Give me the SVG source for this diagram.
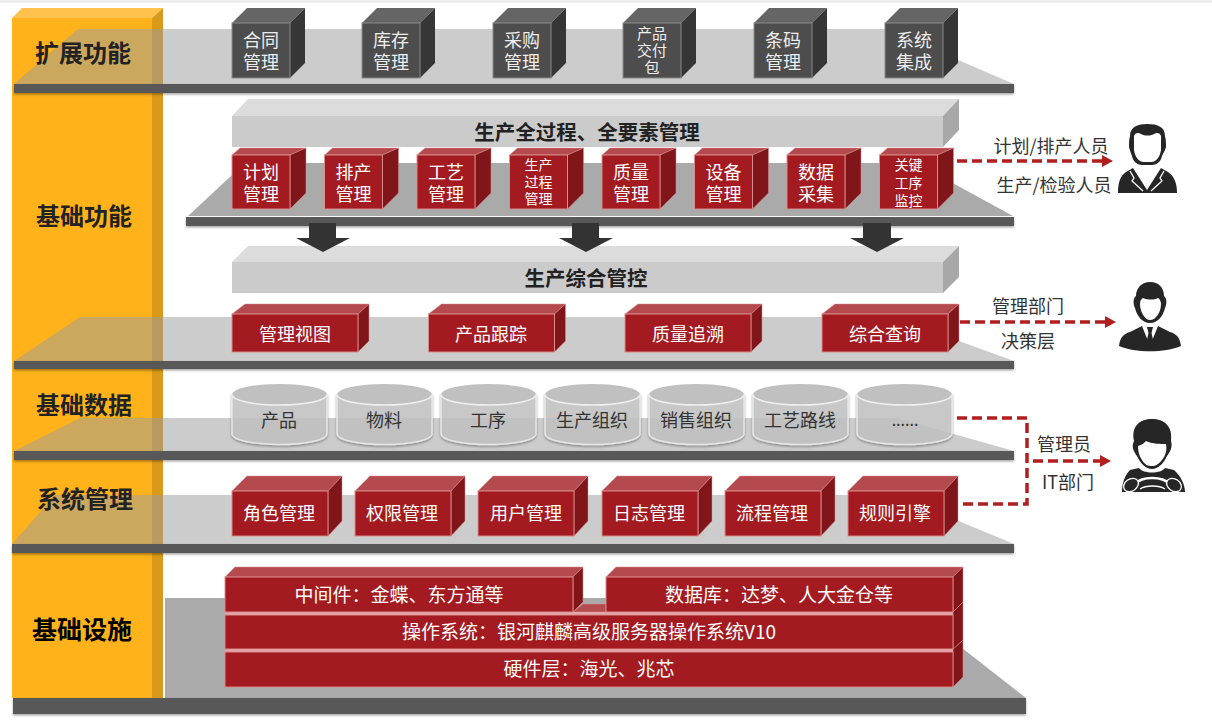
<svg xmlns="http://www.w3.org/2000/svg" width="1212" height="722" viewBox="0 0 1212 722">
<style>
text{font-family:"Noto Sans CJK SC","Microsoft YaHei","Liberation Sans",sans-serif;dominant-baseline:central;text-anchor:middle;transform:translateY(-1.5px)}
.w{fill:#fff;font-size:18px}
.g{fill:#eee;font-size:18px}
.d{fill:#333;font-size:18px}
.s14{font-size:14px}.s15{font-size:15px}.s19{font-size:19px}
.lab{fill:#222;font-size:24px;font-weight:700}
.bt{fill:#222;font-size:20.500px;font-weight:700}
.band{fill:#9d9d9d;fill-opacity:.52}
.dark{fill:#aaa}
.bar{fill:#595959;filter:url(#sh)}
.rf{fill:#a31b20;stroke:#d98c8c;stroke-width:1}
.rt{fill:#b54a4e;stroke:#d98c8c;stroke-width:.5}
.rs{fill:#80151a;stroke:#d98c8c;stroke-width:.5}
.gf{fill:#4d4d4d;stroke:#8a8a8a;stroke-width:1}
.gt{fill:#656565}
.gs{fill:#363636}
.lf{fill:#cbcbcb}
.lt{fill:#dcdcdc}
.ls{fill:#a8a8a8}
.cb{fill:#c4c4c4;fill-opacity:.8;stroke:#e6e6e6;stroke-width:1.500;filter:url(#sh)}
.ct{fill:#c0c0c0}
.rim{fill:none;stroke:#f0f0f0;stroke-width:1.500}
.dash{fill:none;stroke:#b01e1e;stroke-width:3.500;stroke-dasharray:10 5}
.ah{fill:#b01e1e}
.blk{fill:#333}
.ico{fill:#262626}
.face{fill:#fff}
.cut{fill:none;stroke:#fff;stroke-width:1.300}
</style>
<defs>
<filter id="sh" x="-5%" y="-30%" width="110%" height="170%"><feDropShadow dx="0" dy="1.500" stdDeviation="1.200" flood-color="#000" flood-opacity=".35"/></filter>
<g id="rb8"><polygon class="rt" points="0,7 8,0 74,0 58,7"/><polygon class="rs" points="58,7 74,0 74,45 58,61"/><rect class="rf" x="0" y="7" width="58" height="54"/></g>
<g id="gb"><polygon class="gt" points="0,15 15,0 73,0 58,15"/><polygon class="gs" points="58,15 73,0 73,55 58,70"/><rect class="gf" x="0" y="15" width="58" height="55"/></g>
<g id="mb"><polygon class="rt" points="0,10 13,0 137,0 126,10"/><polygon class="rs" points="126,10 137,0 137,37 126,48"/><rect class="rf" x="0" y="10" width="126" height="38"/></g>
<g id="sb"><polygon class="rt" points="0,15 15,0 110,0 96,15"/><polygon class="rs" points="96,15 110,0 110,45 96,60"/><rect class="rf" x="0" y="15" width="96" height="45"/></g>
<g id="cyl"><path class="cb" d="M0,10.500V50A47.500,10.500 0 0 0 95,50V10.500Z"/><ellipse class="ct" cx="47.500" cy="10.500" rx="47.500" ry="10.500"/><path class="rim" d="M0,10.500A47.500,10.500 0 0 0 95,10.500"/></g>
</defs>
<rect width="1212" height="722" fill="#fff"/>
<rect width="1212" height="3" fill="#eee"/>

<g id="column">
<polygon points="12,18 22,8 163,8 152,18" fill="#ffc24d"/>
<rect x="12" y="18" width="140" height="680" fill="#ffb21a"/>
<polygon points="152,18 163,8 163,698 152,698" fill="#d99a1c"/>
</g>

<g id="platforms">
<polygon class="band" points="14,84 78,29 886,29 1014,84"/>
<polygon class="dark" points="188,216 245,163 916,163 1013,216"/>
<polygon class="band" points="14,361 80,317 893,317 1014,361"/>
<polygon class="band" points="14,451 80,418 897,418 1014,451"/>
<polygon class="band" points="12,544 55,495 896,495 1014,544"/>
<polygon class="dark" points="165,698 165,598 898,598 1026,698"/>
<rect class="bar" x="14" y="84" width="1000" height="9"/>
<rect class="bar" x="186" y="217" width="828" height="9"/>
<rect class="bar" x="14" y="361" width="1000" height="8"/>
<rect class="bar" x="14" y="451" width="1000" height="9"/>
<rect class="bar" x="12" y="544" width="1002" height="9"/>
<rect class="bar" x="13" y="698" width="1013" height="16"/>
</g>

<g id="labels">
<text class="lab" x="83" y="53">扩展功能</text>
<text class="lab" x="84" y="216">基础功能</text>
<text class="lab" x="84" y="405">基础数据</text>
<text class="lab" x="85" y="499">系统管理</text>
<text class="lab" x="82" y="629" style="fill:#000;font-size:25px">基础设施</text>
</g>

<g id="ext-1"><use href="#gb" x="232" y="8"/><text class="g" x="261" y="40">合同</text><text class="g" x="261" y="62">管理</text></g>
<g id="ext-2"><use href="#gb" x="362" y="8"/><text class="g" x="391" y="40">库存</text><text class="g" x="391" y="62">管理</text></g>
<g id="ext-3"><use href="#gb" x="493" y="8"/><text class="g" x="522" y="40">采购</text><text class="g" x="522" y="62">管理</text></g>
<g id="ext-4"><use href="#gb" x="623" y="8"/><text class="g s15" x="652" y="34">产品</text><text class="g s15" x="652" y="51">交付</text><text class="g s15" x="652" y="68">包</text></g>
<g id="ext-5"><use href="#gb" x="754" y="8"/><text class="g" x="783" y="40">条码</text><text class="g" x="783" y="62">管理</text></g>
<g id="ext-6"><use href="#gb" x="885" y="8"/><text class="g" x="914" y="40">系统</text><text class="g" x="914" y="62">集成</text></g>

<g id="bar-process">
<polygon class="lt" points="232,116 248,99 959,99 943,116"/>
<polygon class="ls" points="943,116 959,99 959,130 943,147"/>
<rect class="lf" x="232" y="116" width="711" height="31"/>
<text class="bt" x="587" y="132">生产全过程、全要素管理</text>
</g>

<g id="fn-1"><use href="#rb8" x="232" y="148"/><text class="w" x="261" y="172">计划</text><text class="w" x="261" y="194">管理</text></g>
<g id="fn-2"><use href="#rb8" x="324.500" y="148"/><text class="w" x="353.500" y="172">排产</text><text class="w" x="353.500" y="194">管理</text></g>
<g id="fn-3"><use href="#rb8" x="417" y="148"/><text class="w" x="446" y="172">工艺</text><text class="w" x="446" y="194">管理</text></g>
<g id="fn-4"><use href="#rb8" x="509.500" y="148"/><text class="w s14" x="538.500" y="165">生产</text><text class="w s14" x="538.500" y="182">过程</text><text class="w s14" x="538.500" y="199">管理</text></g>
<g id="fn-5"><use href="#rb8" x="602" y="148"/><text class="w" x="631" y="172">质量</text><text class="w" x="631" y="194">管理</text></g>
<g id="fn-6"><use href="#rb8" x="694.500" y="148"/><text class="w" x="723.500" y="172">设备</text><text class="w" x="723.500" y="194">管理</text></g>
<g id="fn-7"><use href="#rb8" x="787" y="148"/><text class="w" x="816" y="172">数据</text><text class="w" x="816" y="194">采集</text></g>
<g id="fn-8"><use href="#rb8" x="879.500" y="148"/><text class="w s14" x="908.500" y="165">关键</text><text class="w s14" x="908.500" y="183">工序</text><text class="w s14" x="908.500" y="201">监控</text></g>

<g id="bar-control">
<polygon class="lt" points="232,262 248,246 959,246 943,262"/>
<polygon class="ls" points="943,262 959,246 959,277 943,293"/>
<rect class="lf" x="232" y="262" width="711" height="31"/>
<text class="bt" x="586" y="278">生产综合管控</text>
</g>

<g id="flow-arrows">
<polygon class="blk" points="309,223 336,223 336,238 350,238 323,252 296,238 309,238"/>
<polygon class="blk" points="572,223 599,223 599,238 613,238 586,252 559,238 572,238"/>
<polygon class="blk" points="863,223 891,223 891,238 904,238 877,252 850,238 863,238"/>
</g>

<g id="mg-1"><use href="#mb" x="232" y="304"/><text class="w" x="295" y="334">管理视图</text></g>
<g id="mg-2"><use href="#mb" x="428.500" y="304"/><text class="w" x="491" y="334">产品跟踪</text></g>
<g id="mg-3"><use href="#mb" x="625" y="304"/><text class="w" x="688" y="334">质量追溯</text></g>
<g id="mg-4"><use href="#mb" x="822" y="304"/><text class="w" x="885" y="334">综合查询</text></g>

<g id="db-1"><use href="#cyl" x="232" y="384"/><text class="d" x="279" y="420">产品</text></g>
<g id="db-2"><use href="#cyl" x="337" y="384"/><text class="d" x="384" y="420">物料</text></g>
<g id="db-3"><use href="#cyl" x="441" y="384"/><text class="d" x="488" y="420">工序</text></g>
<g id="db-4"><use href="#cyl" x="545" y="384"/><text class="d" x="592" y="420">生产组织</text></g>
<g id="db-5"><use href="#cyl" x="649" y="384"/><text class="d" x="696" y="420">销售组织</text></g>
<g id="db-6"><use href="#cyl" x="753" y="384"/><text class="d" x="800" y="420">工艺路线</text></g>
<g id="db-7"><use href="#cyl" x="857" y="384"/><text class="d" x="905" y="420" style="font-size:16px">......</text></g>

<g id="sys-1"><use href="#sb" x="232" y="476"/><text class="w" x="279" y="513">角色管理</text></g>
<g id="sys-2"><use href="#sb" x="355" y="476"/><text class="w" x="402" y="513">权限管理</text></g>
<g id="sys-3"><use href="#sb" x="478" y="476"/><text class="w" x="526" y="513">用户管理</text></g>
<g id="sys-4"><use href="#sb" x="602" y="476"/><text class="w" x="649" y="513">日志管理</text></g>
<g id="sys-5"><use href="#sb" x="725" y="476"/><text class="w" x="772" y="513">流程管理</text></g>
<g id="sys-6"><use href="#sb" x="848" y="476"/><text class="w" x="895" y="513">规则引擎</text></g>

<g id="infra-hw">
<polygon class="rs" points="953,649 963,640 963,677 953,687"/>
<rect x="225" y="649" width="728" height="4" fill="#e3a8a8"/>
<rect class="rf" x="225" y="652" width="728" height="35"/>
<text class="w s19" x="589" y="669">硬件层&#xFF1A;海光、兆芯</text>
</g>
<g id="infra-os">
<polygon class="rt" points="573,612 583,604 606,604 606,612"/>
<polygon class="rs" points="953,612 963,602 963,640 953,649"/>
<rect x="225" y="612" width="728" height="4" fill="#e3a8a8"/>
<rect class="rf" x="225" y="615" width="728" height="34"/>
<text class="w s19" x="589" y="632">操作系统&#xFF1A;银河麒麟高级服务器操作系统V10</text>
</g>
<g id="infra-mw">
<polygon class="rt" points="225,577 235,567 583,567 573,577"/>
<polygon class="rs" points="573,577 583,567 583,602 573,612"/>
<rect class="rf" x="225" y="577" width="348" height="35"/>
<text class="w s19" x="399" y="595">中间件&#xFF1A;金蝶、东方通等</text>
</g>
<g id="infra-db">
<polygon class="rt" points="606,577 616,567 963,567 953,577"/>
<polygon class="rs" points="953,577 963,567 963,602 953,612"/>
<rect class="rf" x="606" y="577" width="347" height="35"/>
<text class="w s19" x="779" y="595">数据库&#xFF1A;达梦、人大金仓等</text>
</g>

<g id="connectors">
<path class="dash" d="M957,161H1103"/><polygon class="ah" points="1102,155 1113,161 1102,167"/>
<path class="dash" d="M960,322H1106"/><polygon class="ah" points="1105,316 1116,322 1105,328"/>
<path class="dash" d="M957,418H1027V504H958"/>
<path class="dash" d="M1033,461H1101"/><polygon class="ah" points="1100,455 1111,461 1100,467"/>
</g>

<g id="role-labels">
<text class="d" x="1051" y="146">计划/排产人员</text>
<text class="d" x="1054" y="185">生产/检验人员</text>
<text class="d" x="1028" y="306">管理部门</text>
<text class="d" x="1028" y="341">决策层</text>
<text class="d" x="1064" y="444">管理员</text>
<text class="d" x="1068" y="482">IT部门</text>
</g>

<g id="person-1">
<path class="ico" d="M1129,147C1129,143 1129,140 1130,136C1130,128 1136,124 1147,124C1158,124 1165,127 1165,136C1166,140 1166,143 1166,147C1165,151 1163,153 1162,156C1161,162 1156,165 1152,165H1142C1138,165 1133,162 1132,156C1131,153 1130,151 1129,147Z"/>
<path class="face" d="M1134,150V136C1135,133 1138,132 1141,134C1145,136 1150,136 1154,134C1157,132 1160,133 1161,136V150C1160,156 1157,162 1151,162H1144C1138,162 1135,156 1134,150Z"/>
<path class="ico" d="M1118,193C1118,183 1120,176 1126,172L1133,168L1147,190L1161,168L1168,172C1174,176 1177,183 1177,193Z"/>
<path class="cut" d="M1130,171L1134,178L1132,181L1143,191M1164,171L1160,178L1162,181L1151,191"/>
</g>
<g id="person-2">
<path class="ico" d="M1136,296C1136,288 1142,282 1150,282C1159,282 1164,288 1164,296C1167,298 1167,304 1165,308C1163,316 1158,323 1150,323C1142,323 1137,316 1135,308C1133,304 1133,298 1136,296Z"/>
<path class="face" d="M1140,304C1140,301 1141,299 1143,298C1148,300 1154,300 1158,298C1160,299 1161,302 1161,304C1161,312 1156,320 1150,320C1145,320 1140,312 1140,304Z"/>
<path class="ico" d="M1119,346C1120,338 1123,334 1130,332L1142,326L1150,346L1158,326L1170,332C1177,334 1180,338 1181,346C1165,353 1135,353 1119,346Z"/>
<path class="ico" d="M1147,327H1153L1151.500,333L1154,344L1150,349L1146,344L1148.500,333Z"/>
</g>
<g id="person-3">
<path class="ico" d="M1134,441C1131,426 1140,419 1152,419C1164,419 1173,426 1171,441C1173,447 1170,452 1167,456C1164,463 1158,469 1152,469C1146,469 1140,463 1137,456C1134,452 1131,447 1134,441Z"/>
<path class="face" d="M1138,446C1142,445 1144,443 1146,441C1152,444 1161,444 1166,444C1167,450 1166,455 1162,460C1158,465 1155,466 1152,466C1148,466 1145,465 1142,460C1139,456 1138,451 1138,446Z"/>
<path class="ico" d="M1122,492C1122,485 1124,476 1130,470L1139,468C1143,474 1161,474 1165,468L1174,470C1181,476 1185,485 1185,492Z"/>
<path class="cut" style="stroke-width:2.500" d="M1135,484C1142,476 1162,476 1170,484"/>
<path class="cut" style="stroke-width:1.500" d="M1140,489C1146,485 1159,485 1165,489"/>
<ellipse class="ico" cx="1131" cy="485" rx="8" ry="6" transform="rotate(-35 1131 485)" style="stroke:#fff;stroke-width:1.300"/>
<ellipse class="ico" cx="1174" cy="485" rx="8" ry="6" transform="rotate(35 1174 485)" style="stroke:#fff;stroke-width:1.300"/>
</g>
</svg>
